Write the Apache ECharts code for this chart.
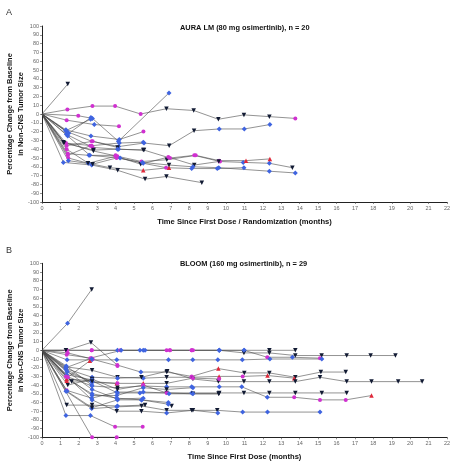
<!DOCTYPE html>
<html>
<head>
<meta charset="utf-8">
<script src="https://cdn.jsdelivr.net/npm/echarts@6/dist/echarts.min.js"></script>
<style>
html,body{margin:0;padding:0;background:#fff;}
#chart{width:457px;height:469px;}
</style>
</head>
<body>
<div id="chart"></div>
<script>
// ---- Data ----
const panelLetters = ["A", "B"];
const panelTitles = ["AURA LM (80 mg osimertinib), n = 20", "BLOOM (160 mg osimertinib), n = 29"];
const xAxisTitles = ["Time Since First Dose / Randomization (months)", "Time Since First Dose (months)"];
const yAxisTitle = "Percentage Change from Baseline\nin Non-CNS Tumor Size";
const xTicks = [0,1,2,3,4,5,6,7,8,9,10,11,12,13,14,15,16,17,18,19,20,21,22];
const yTicks = [-100,-90,-80,-70,-60,-50,-40,-30,-20,-10,0,10,20,30,40,50,60,70,80,90,100];
const baseline = [0, 0];
// each point: [months, % change, marker category]
const auraPatients = [
  [[1.40,34,'k']],
  [[1.38,5,'m'],[2.74,9,'m'],[3.97,9,'m'],[5.36,0,'m'],[6.76,6,'k'],[8.24,4,'k'],[9.58,-6,'k'],[10.97,-1,'k'],[12.35,-3,'k'],[13.76,-5,'m']],
  [[1.97,-2,'m'],[2.74,-5,'b'],[4.15,-31,'b'],[6.90,24,'b']],
  [[1.34,-7,'m'],[2.84,-12,'b'],[4.18,-14,'m']],
  [[1.30,-18,'b'],[2.66,-25,'b'],[4.20,-29,'b'],[5.51,-20,'m']],
  [[1.36,-20,'b'],[2.70,-31,'m'],[4.16,-37,'b'],[5.54,-33,'b'],[6.91,-36,'k'],[8.26,-19,'k'],[9.63,-17,'b'],[10.99,-17,'b'],[12.38,-12,'b']],
  [[1.32,-23,'b'],[2.75,-38,'m'],[4.16,-40,'b'],[5.54,-41,'k'],[6.95,-50,'m'],[8.27,-47,'m'],[9.67,-54,'m'],[10.93,-55,'b'],[12.35,-56,'b'],[13.60,-61,'k']],
  [[1.16,-32,'k'],[2.79,-42,'k'],[4.09,-48,'m'],[5.41,-54,'m'],[6.78,-52,'k'],[8.35,-47,'m'],[9.62,-53,'m'],[11.08,-53,'r'],[12.38,-51,'r']],
  [[1.30,-33,'m'],[2.70,-36,'m'],[4.20,-33,'b'],[5.50,-32,'b']],
  [[1.40,-25,'b'],[2.60,-47,'b'],[4.24,-50,'b'],[5.50,-56,'b'],[6.74,-61,'m'],[8.13,-62,'b'],[9.52,-62,'b'],[10.97,-61,'b']],
  [[1.34,-40,'m'],[2.52,-56,'b'],[4.00,-48,'m'],[5.36,-57,'k'],[6.86,-49,'m'],[8.27,-58,'k'],[9.60,-54,'k']],
  [[1.43,-50,'m'],[2.50,-56,'k'],[3.69,-61,'k'],[5.50,-64,'r'],[6.90,-61,'r']],
  [[1.16,-55,'b'],[2.70,-58,'b'],[4.11,-64,'k'],[5.60,-74,'k'],[6.76,-71,'k'],[8.68,-78,'k']],
  [[1.43,-53,'b'],[2.75,-57,'k'],[4.05,-50,'m'],[5.45,-55,'b'],[6.90,-58,'k'],[8.20,-60,'b'],[9.60,-61,'b'],[12.35,-65,'b'],[13.76,-67,'b']],
  [[1.34,-36,'m'],[2.75,-31,'m'],[4.10,-38,'k']],
  [[1.20,-33,'k'],[2.80,-41,'k'],[4.10,-40,'b'],[5.50,-41,'k']],
  [[1.40,-47,'m'],[2.62,-36,'m']],
  [[1.28,-19,'b'],[2.64,-6,'b']],
  [[1.45,-22,'b'],[2.66,-4,'b']],
  [[1.40,-45,'m'],[2.55,-47,'b'],[4.00,-47,'m']]
];
const bloomPatients = [
  [[1.39,31,'b'],[2.70,70,'k']],
  [[1.34,0,'m'],[2.66,9,'k'],[4.09,-17,'m'],[5.37,-25,'b'],[6.77,-25,'k'],[8.13,-30,'m'],[9.58,-21,'r'],[10.99,-26,'k'],[12.35,-26,'k'],[13.76,-31,'k'],[15.15,-25,'k'],[16.50,-25,'k']],
  [[1.34,0,'m'],[2.70,0,'m'],[4.10,0,'b'],[5.50,0,'b'],[6.95,0,'m'],[8.13,0,'m'],[9.63,0,'b'],[10.99,0,'b'],[12.35,0,'k'],[13.76,0,'k']],
  [[1.30,0,'k'],[2.70,0,'m'],[4.25,0,'m'],[5.32,0,'b'],[6.77,0,'m'],[8.20,0,'m'],[9.63,0,'b'],[10.97,-3,'k'],[12.35,-3,'k'],[13.76,-6,'k'],[15.19,-6,'k'],[16.55,-6,'k'],[17.85,-6,'k'],[19.20,-6,'k']],
  [[1.34,-5,'m'],[2.63,-9,'m'],[4.30,0,'b'],[5.60,0,'b'],[6.95,0,'m'],[8.13,0,'m'],[9.63,0,'b'],[10.97,0,'b'],[12.24,-8,'m'],[13.60,-8,'b'],[15.10,-9,'m']],
  [[1.36,-11,'b'],[2.72,-11,'b'],[4.06,-11,'b'],[6.87,-11,'b'],[8.19,-11,'b'],[9.55,-11,'b'],[10.88,-11,'b'],[12.38,-10,'b'],[15.20,-10,'b']],
  [[1.30,-19,'b'],[2.72,-23,'k'],[4.10,-31,'k'],[5.50,-32,'b'],[6.77,-31,'k'],[8.13,-31,'m'],[9.62,-30,'r'],[10.90,-30,'m'],[12.25,-29,'r'],[13.70,-32,'r']],
  [[1.30,-21,'b'],[2.72,-31,'b'],[4.10,-32,'b'],[5.40,-31,'k'],[6.80,-24,'k'],[8.20,-33,'k'],[9.58,-36,'k'],[10.97,-36,'k'],[12.35,-36,'k'],[13.76,-36,'k'],[15.10,-31,'k'],[16.55,-36,'k'],[17.90,-36,'k'],[19.35,-36,'k'],[20.65,-36,'k']],
  [[1.36,-25,'b'],[2.70,-36,'b'],[4.06,-38,'r'],[5.50,-38,'r'],[6.77,-38,'k'],[8.20,-32,'m'],[9.62,-33,'m']],
  [[1.34,-30,'b'],[2.72,-41,'b'],[4.10,-43,'k'],[5.50,-41,'m'],[6.77,-42,'b'],[8.13,-42,'b'],[9.63,-42,'b'],[10.85,-42,'b'],[12.24,-54,'b'],[13.70,-54,'m'],[15.10,-57,'m'],[16.50,-57,'m'],[17.90,-52,'r']],
  [[1.34,-33,'r'],[2.72,-35,'k'],[4.10,-49,'b'],[5.32,-49,'b'],[6.77,-49,'k'],[8.13,-49,'b'],[9.63,-49,'k'],[10.97,-49,'k'],[12.35,-49,'k'],[13.76,-49,'k'],[15.20,-49,'k'],[16.55,-49,'k']],
  [[1.61,-36,'k'],[2.72,-50,'b'],[4.06,-55,'b'],[5.41,-57,'b'],[6.86,-60,'b'],[7.04,-64,'k']],
  [[1.34,-46,'m'],[2.70,-55,'b'],[4.06,-48,'b'],[5.50,-48,'b'],[6.77,-49,'m'],[8.20,-50,'k'],[9.60,-50,'k']],
  [[1.30,-47,'b'],[2.70,-67,'b'],[4.06,-65,'b'],[5.41,-64,'k'],[6.77,-69,'k'],[8.13,-69,'k'],[9.52,-69,'k'],[10.90,-71,'b'],[12.25,-71,'b'],[15.10,-71,'b']],
  [[1.34,-63,'k'],[2.72,-63,'k'],[4.10,-64,'b'],[5.60,-63,'k']],
  [[1.30,-75,'b'],[2.63,-75,'b'],[3.97,-88,'m'],[5.47,-88,'m']],
  [[2.72,-100,'m'],[4.06,-100,'m']],
  [[1.34,-30,'m'],[2.72,-57,'b'],[4.06,-70,'k'],[5.40,-70,'k'],[6.77,-72,'b'],[8.20,-69,'k'],[9.55,-72,'b']],
  [[1.40,-40,'k'],[2.72,-33,'k'],[4.10,-45,'k'],[5.50,-40,'m'],[6.90,-50,'b'],[8.20,-50,'b'],[9.60,-50,'k']],
  [[1.30,-22,'b'],[2.72,-37,'b'],[4.10,-38,'m']],
  [[1.34,-28,'b'],[2.72,-34,'b']],
  [[1.40,-31,'m'],[2.60,-12,'r'],[2.75,-10,'m']],
  [[1.30,-30,'m'],[2.72,-52,'b'],[4.06,-52,'b'],[5.50,-43,'b'],[6.77,-45,'k'],[8.20,-43,'b']],
  [[1.36,-47,'b'],[2.72,-66,'k'],[4.10,-57,'b'],[5.41,-57,'b'],[6.86,-62,'b']],
  [[1.30,-20,'b'],[2.70,-9,'m']],
  [[1.34,-35,'r'],[2.72,-36,'k']],
  [[1.36,-24,'b'],[2.72,-45,'b'],[4.10,-56,'b'],[5.50,-55,'b']],
  [[1.32,-18,'b'],[2.70,-40,'b']],
  [[1.40,-3,'m'],[2.70,-10,'b'],[4.10,-18,'m']]
];

// ---- Styles ----
const markerStyles = {
  b: {symbol: 'diamond', symbolSize: 5, symbolRotate: 0, color: '#3f64e0'},
  m: {symbol: 'circle', symbolSize: 4, symbolRotate: 0, color: '#d030d0'},
  k: {symbol: 'triangle', symbolSize: 4.5, symbolRotate: 180, color: '#111a33'},
  r: {symbol: 'triangle', symbolSize: 4.5, symbolRotate: 0, color: '#e0283a'}
};
const FONT = '"Liberation Sans", Arial, Helvetica, sans-serif';
const grids = [
  {left: 42, right: 10, top: 26, height: 176, containLabel: false, outerBoundsMode: 'none'},
  {left: 42, right: 10, top: 263.3, height: 174, containLabel: false, outerBoundsMode: 'none'}
];

function buildSeries(patients, idx) {
  return patients.map(function (pts, i) {
    const data = [{value: baseline.slice(), symbol: 'none'}].concat(pts.map(function (p) {
      const st = markerStyles[p[2]];
      return {
        value: [p[0], p[1]],
        symbol: st.symbol,
        symbolSize: st.symbolSize,
        symbolRotate: st.symbolRotate,
        itemStyle: {color: st.color, borderWidth: 0}
      };
    }));
    return {
      type: 'line',
      name: (idx === 0 ? 'A' : 'B') + (i + 1),
      xAxisIndex: idx,
      yAxisIndex: idx,
      data: data,
      showAllSymbol: true,
      animation: false,
      silent: true,
      lineStyle: {color: '#4a4a4a', width: 0.6},
      z: 2
    };
  });
}

function xAxisOf(i) {
  return {
    type: 'value', gridIndex: i, min: xTicks[0], max: xTicks[xTicks.length - 1], interval: 1,
    name: xAxisTitles[i], nameLocation: 'middle', nameGap: 16, nameMoveOverlap: false,
    nameTextStyle: {fontFamily: FONT, fontWeight: 'bold', fontSize: 7.6, color: '#111'},
    axisLine: {onZero: false, lineStyle: {color: '#222', width: 1}},
    axisTick: {show: true, length: 2, lineStyle: {color: '#444', width: 0.6}},
    axisLabel: {fontFamily: FONT, fontSize: 5.5, color: '#666', margin: 3},
    splitLine: {show: false}
  };
}
function yAxisOf(i) {
  return {
    type: 'value', gridIndex: i, min: yTicks[0], max: yTicks[yTicks.length - 1], interval: 10,
    name: yAxisTitle, nameLocation: 'middle', nameGap: 16, nameRotate: 90, nameMoveOverlap: false,
    nameTextStyle: {fontFamily: FONT, fontWeight: 'bold', fontSize: 7.5, color: '#111', lineHeight: 11},
    axisLine: {show: true, lineStyle: {color: '#222', width: 1}},
    axisTick: {show: true, length: 2, lineStyle: {color: '#444', width: 0.6}},
    axisLabel: {fontFamily: FONT, fontSize: 5.5, color: '#666', margin: 3},
    splitLine: {show: false}
  };
}

const chart = echarts.init(document.getElementById('chart'), null, {renderer: 'canvas'});
chart.setOption({
  backgroundColor: '#ffffff',
  animation: false,
  title: [
    {text: panelLetters[0], left: 6, top: 8, padding: 0, textStyle: {fontFamily: FONT, fontSize: 9, fontWeight: 'normal', color: '#333'}},
    {text: panelTitles[0], left: 180, top: 24, padding: 0, textStyle: {fontFamily: FONT, fontSize: 7.4, fontWeight: 'bold', color: '#111'}},
    {text: panelLetters[1], left: 6, top: 246, padding: 0, textStyle: {fontFamily: FONT, fontSize: 9, fontWeight: 'normal', color: '#333'}},
    {text: panelTitles[1], left: 180, top: 260.5, padding: 0, textStyle: {fontFamily: FONT, fontSize: 7.4, fontWeight: 'bold', color: '#111'}}
  ],
  grid: grids,
  xAxis: [xAxisOf(0), xAxisOf(1)],
  yAxis: [yAxisOf(0), yAxisOf(1)],
  series: buildSeries(auraPatients, 0).concat(buildSeries(bloomPatients, 1))
});
</script>
</body>
</html>
